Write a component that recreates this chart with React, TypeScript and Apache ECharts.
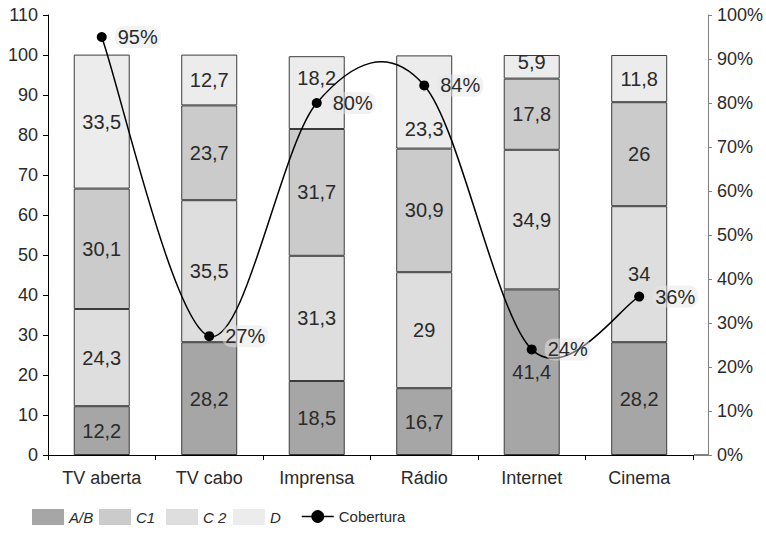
import React, { useEffect, useRef } from "react";
import * as echarts from "echarts";

const categories = ["TV aberta", "TV cabo", "Imprensa", "Rádio", "Internet", "Cinema"];
const seriesAB = [12.2, 28.2, 18.5, 16.7, 41.4, 28.2];
const seriesC2 = [24.3, 35.5, 31.3, 29, 34.9, 34];
const seriesC1 = [30.1, 23.7, 31.7, 30.9, 17.8, 26];
const seriesD = [33.5, 12.7, 18.2, 23.3, 5.9, 11.8];
const cobertura = [95, 27, 80, 84, 24, 36];
const legendNames = ["A/B", "C1", "C 2", "D", "Cobertura"];
const legendLefts = [32, 99, 166, 233, 301];
// label nudges (pixels) for the top segment, as placed in the original
const dLabelShift = [0, 0, -15, 27, -5, 0];

const FONT = "Liberation Sans";
const TXT = "#2a2a2a";

export default function App() {
  const ref = useRef<HTMLDivElement>(null);
  useEffect(() => {
    if (!ref.current) return;
    const chart = echarts.init(ref.current, null, { renderer: "svg" });
    const barLabel = {
      show: true,
      position: "inside",
      fontFamily: FONT,
      fontSize: 20,
      color: TXT,
      formatter: (p: any) => String(p.value).replace(".", ","),
    };
    const bar = (name: string, data: any[], color: string) => ({
      name,
      type: "bar",
      stack: "total",
      barWidth: 56,
      data,
      itemStyle: { color, borderColor: "#3c3c3c", borderWidth: 1 },
      label: barLabel,
    });
    // Excel-like Catmull-Rom smoothing (tension 1/6) drawn through the axes
    const renderCurve = (params: any, api: any) => {
      const i = params.dataIndexInside;
      const n = params.dataInsideLength;
      if (i >= n - 1) return null;
      const pt = (k: number) => {
        const kk = Math.max(0, Math.min(n - 1, k));
        return api.coord([api.value(0, kk), api.value(1, kk)]);
      };
      const p0 = pt(i - 1);
      const p1 = pt(i);
      const p2 = pt(i + 1);
      const p3 = pt(i + 2);
      return {
        type: "bezierCurve",
        shape: {
          x1: p1[0],
          y1: p1[1],
          x2: p2[0],
          y2: p2[1],
          cpx1: p1[0] + (p2[0] - p0[0]) / 6,
          cpy1: p1[1] + (p2[1] - p0[1]) / 6,
          cpx2: p2[0] - (p3[0] - p1[0]) / 6,
          cpy2: p2[1] - (p3[1] - p1[1]) / 6,
        },
        style: { stroke: "#000", lineWidth: 1.5, fill: null },
        silent: true,
      };
    };
    const legends = legendNames.map((name, k) => ({
      left: legendLefts[k],
      top: 509,
      itemWidth: 32,
      itemHeight: 16,
      itemGap: 0,
      padding: 0,
      data: [
        name === "Cobertura"
          ? { name, lineStyle: { color: "#000", width: 1.5, opacity: 1 } }
          : { name, icon: "rect" },
      ],
      itemStyle: { borderWidth: 0 },
      formatter: (nm: string) => (nm === "Cobertura" ? nm : `{i|${nm}}`),
      textStyle: {
        fontFamily: FONT,
        fontSize: 15,
        color: TXT,
        rich: { i: { fontStyle: "italic", fontSize: 15, fontFamily: FONT, color: TXT } },
      },
    }));
    const dData = seriesD.map((v, i) => ({ value: v, label: { offset: [0, dLabelShift[i]] } }));
    chart.setOption({
      animation: false,
      textStyle: { fontFamily: FONT },
      grid: { left: 48, right: 72, top: 15, bottom: 79 },
      legend: legends as any,
      xAxis: {
        type: "category",
        data: categories,
        axisLine: { lineStyle: { color: "#000", width: 1 } },
        axisTick: { show: true, length: 5, lineStyle: { color: "#000" } },
        axisLabel: { fontSize: 18, color: TXT, margin: 14, fontFamily: FONT },
      },
      yAxis: [
        {
          type: "value",
          min: 0,
          max: 110,
          interval: 10,
          splitLine: { show: false },
          axisLine: { show: true, lineStyle: { color: "#000" } },
          axisTick: { show: true, length: 5, lineStyle: { color: "#000" } },
          axisLabel: { fontSize: 18, color: TXT, margin: 10, fontFamily: FONT },
        },
        {
          type: "value",
          min: 0,
          max: 100,
          interval: 10,
          position: "right",
          offset: 15,
          splitLine: { show: false },
          axisLine: { show: true, lineStyle: { color: "#808080" } },
          axisTick: { show: true, length: 4, lineStyle: { color: "#808080" } },
          axisLabel: { fontSize: 18, color: TXT, margin: 9, formatter: "{value}%", fontFamily: FONT },
        },
      ],
      graphic: [
        {
          type: "line",
          shape: { x1: 694, y1: 455, x2: 709, y2: 455 },
          style: { stroke: "#000", lineWidth: 1 },
        },
      ],
      series: [
        bar("A/B", seriesAB, "#a6a6a6"),
        bar("C 2", seriesC2, "#dedede"),
        bar("C1", seriesC1, "#cbcbcb"),
        bar("D", dData, "#ececec"),
        {
          name: "curve",
          type: "custom",
          yAxisIndex: 1,
          data: cobertura.map((v, i) => [i, v]),
          renderItem: renderCurve,
          z: 9,
          silent: true,
        },
        {
          name: "Cobertura",
          type: "line",
          yAxisIndex: 1,
          data: cobertura,
          symbol: "circle",
          symbolSize: 10,
          z: 10,
          lineStyle: { color: "#000", width: 1.5, opacity: 0 },
          itemStyle: { color: "#000" },
          label: {
            show: true,
            position: "right",
            distance: 8,
            formatter: "{c}%",
            fontFamily: FONT,
            fontSize: 20,
            color: TXT,
            backgroundColor: "rgba(230,230,230,0.5)",
            borderRadius: 9,
            padding: [1, 3],
          },
        },
      ],
    });
    return () => chart.dispose();
  }, []);
  return <div ref={ref} style={{ width: 766, height: 534, position: "absolute", left: 0, top: 0 }} />;
}
